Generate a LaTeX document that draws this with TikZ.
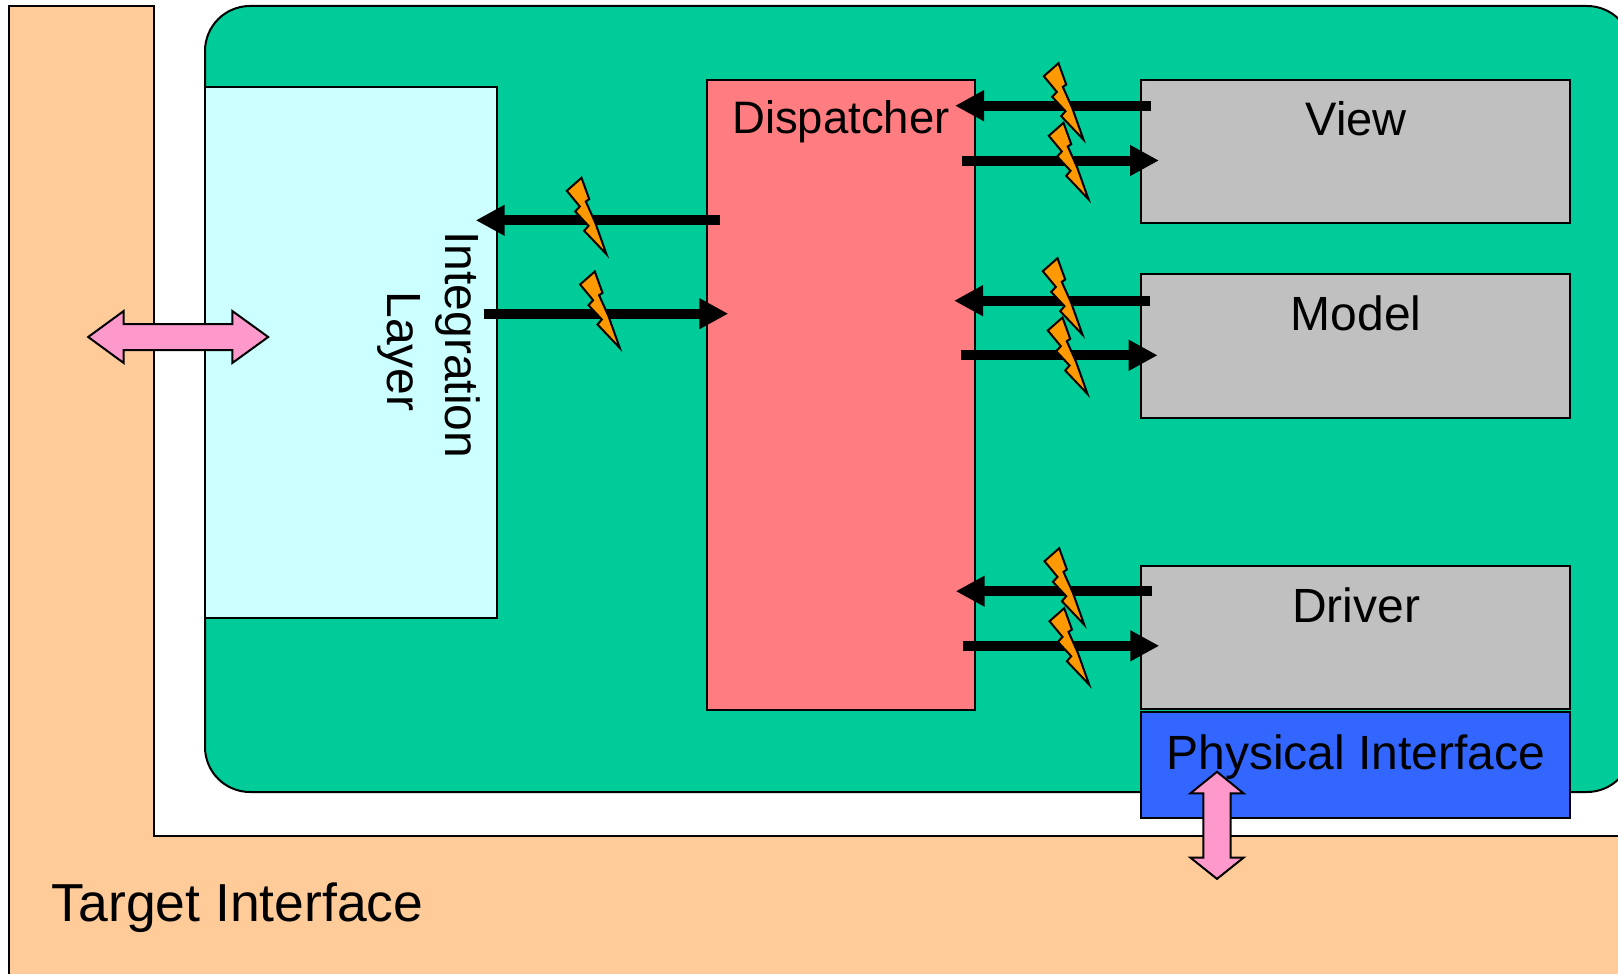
\documentclass[tikz,border=0pt]{standalone}
\usepackage{fontspec}
\setmainfont{Liberation Sans}
\usetikzlibrary{arrows.meta}
\definecolor{orangeBg}{HTML}{FFCC99}
\definecolor{greenBg}{HTML}{00CC99}
\definecolor{iceBg}{HTML}{CCFFFF}
\definecolor{redBg}{HTML}{FF7C80}
\definecolor{greyBg}{HTML}{C0C0C0}
\definecolor{blueBg}{HTML}{3366FF}
\definecolor{pinkBg}{HTML}{FF99CC}
\definecolor{boltBg}{HTML}{FF9900}
\newcommand{\fs}[1]{\fontsize{#1}{#1}\selectfont}
\tikzset{
  x=1pt,y=-1pt,
  edge/.style={draw=black,line width=2pt},
  boxnode/.style={edge,rectangle,inner sep=0pt,minimum width=#1},
  txt/.style={inner sep=0pt,anchor=base},
  flow/.style={line width=10pt,draw=black,shorten >=-1pt,-{Triangle[length=29pt,width=29pt]}},
  bolt/.pic={
    \draw[edge,fill=boltBg,line join=miter]
      (0,1) -- (-14.7,14) -- (-1.7,29.7) -- (-6.3,34.7) -- (7,49) -- (2.7,54)
      -- (25,77.5) -- (13.7,45.7) -- (4.3,24.7) -- (7.7,22.3) -- cycle;
  },
  twowayh/.pic={
    \draw[edge,fill=pinkBg,line join=miter]
      (-90,0) -- (-54.5,-26) -- (-54.5,-13) -- (54.1,-13) -- (54.1,-26) -- (90,0)
      -- (54.1,26) -- (54.1,13) -- (-54.5,13) -- (-54.5,26) -- cycle;
  },
  twowayv/.pic={
    \draw[edge,fill=pinkBg,line join=miter]
      (0,-53.5) -- (26.5,-32) -- (13.7,-32) -- (13.7,32.4) -- (26.5,32.4) -- (0,53.6)
      -- (-26.5,32.4) -- (-13.7,32.4) -- (-13.7,-32) -- (-26.5,-32) -- cycle;
  }
}
\begin{document}
\begin{tikzpicture}
\useasboundingbox (0,0) rectangle (1618,974);
\clip (0,0) rectangle (1618,974);
% Target interface L-shape
\draw[edge,fill=orangeBg] (9,990) -- (9,6) -- (153.5,6) -- (153.5,836) -- (1640,836) -- (1640,990) -- cycle;
\node[txt,anchor=base west,font=\fs{53.5}] (target) at (51.5,921) {Target Interface};
% Main block
\node[edge,fill=greenBg,rectangle,rounded corners=45pt,inner sep=0pt,minimum width=1427pt,minimum height=786pt] (main) at (918.5,399) {};
% Boxes
\node[boxnode=292pt,fill=iceBg,minimum height=531pt] (integ) at (351,352.5) {};
\node[boxnode=268pt,fill=redBg,minimum height=630.5pt] (disp) at (841,395) {};
\node[boxnode=429pt,fill=greyBg,minimum height=143.5pt] (view) at (1355,151.5) {};
\node[boxnode=429pt,fill=greyBg,minimum height=144pt] (model) at (1355.5,346) {};
\node[boxnode=429pt,fill=greyBg,minimum height=143.5pt] (driver) at (1355.5,637.5) {};
\node[boxnode=429pt,fill=blueBg,minimum height=106pt] (phys) at (1355.5,765) {};
% Labels
\node[txt,font=\fs{45.5}] (ldisp) at (841,133) {Dispatcher};
\node[txt,font=\fs{47}] (lview) at (1356,135.5) {View};
\node[txt,font=\fs{48}] (lmodel) at (1356,330) {Model};
\node[txt,font=\fs{48}] (ldriver) at (1356,622) {Driver};
\node[txt,font=\fs{48}] (lphys) at (1356,769) {Physical Interface};
\node[inner sep=0pt,rotate=-90,align=center,font=\fontsize{48}{58}\selectfont] (linteg) at (428.5,351.5) {Integration\hspace*{13.4pt}\\Layer};
% Pink double arrows
\pic at (178.2,337) {twowayh};
\pic at (1217,825.3) {twowayv};
% Flow end points
\coordinate (v1a) at (1151,105.7); \coordinate (v1b) at (956,105.7);
\coordinate (v2a) at (962,160.5);    \coordinate (v2b) at (1158,160.5);
\coordinate (m1a) at (1150.3,300.7); \coordinate (m1b) at (955,300.7);
\coordinate (m2a) at (961.3,355.3);  \coordinate (m2b) at (1156.7,355.3);
\coordinate (d1a) at (1151.7,591.2); \coordinate (d1b) at (956.7,591.2);
\coordinate (d2a) at (963,645.8);  \coordinate (d2b) at (1158.3,645.8);
\coordinate (i1a) at (720,220.3);  \coordinate (i1b) at (476.7,220.3);
\coordinate (i2a) at (484,313.7);  \coordinate (i2b) at (727.3,313.7);
\draw[flow] (v1a) -- (v1b);
\draw[flow] (v2a) -- (v2b);
\draw[flow] (m1a) -- (m1b);
\draw[flow] (m2a) -- (m2b);
\draw[flow] (d1a) -- (d1b);
\draw[flow] (d2a) -- (d2b);
\draw[flow] (i1a) -- (i1b);
\draw[flow] (i2a) -- (i2b);
% Bolts
\pic at (581.5,176.8) {bolt};
\pic at (594.8,270.5) {bolt};
\pic at (1058.5,62.2) {bolt};
\pic at (1063.5,121.8) {bolt};
\pic at (1057.5,257.2) {bolt};
\pic at (1062.5,316.5) {bolt};
\pic at (1059.2,547.2) {bolt};
\pic at (1064.2,607.2) {bolt};
\end{tikzpicture}
\end{document}
